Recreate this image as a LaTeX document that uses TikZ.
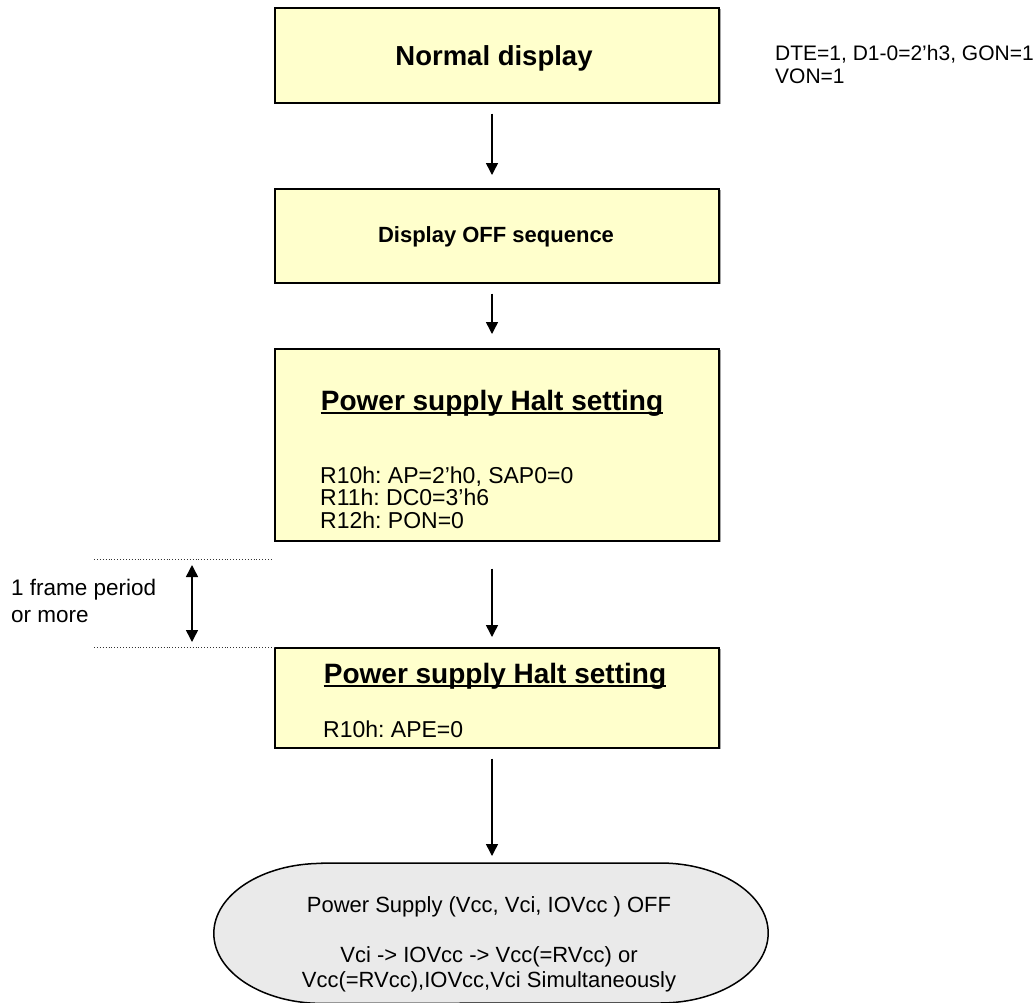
\documentclass[tikz,border=0pt]{standalone}
\usepackage{fontspec}
\setmainfont{Liberation Sans}
\usetikzlibrary{arrows.meta}
\definecolor{boxfill}{HTML}{FFFFCC}
\definecolor{termfill}{HTML}{EAEAEA}
\tikzset{
  stepbox/.style={draw=black, line width=1.6pt, fill=boxfill, inner sep=0pt, anchor=north west},
  boxshadow/.style={fill=black!35},
  flow/.style={line width=1.5pt, -{Triangle[length=12pt,width=12pt]}},
  span/.style={line width=1.5pt, {Triangle[length=12pt,width=12pt]}-{Triangle[length=12pt,width=12pt]}},
  guide/.style={line width=0.9pt, dotted, black!80},
  txt/.style={inner sep=0pt, font=\fontsize{23}{22.5}\selectfont},
  ttl/.style={inner sep=0pt, anchor=base, font=\fontsize{28}{30}\selectfont\bfseries},
  uline/.style={line width=1.8pt},
}
\begin{document}
\frenchspacing
\begin{tikzpicture}[x=1pt,y=-1pt]
\useasboundingbox (0,0) rectangle (1034,1002);
\begin{scope}
\clip (0,0) rectangle (1034,1002);

% shadows behind the boxes
\fill[boxshadow] (276,9) rectangle (720.5,104);
\fill[boxshadow] (276,190) rectangle (720.5,284);
\fill[boxshadow] (276,350) rectangle (720.5,542);
\fill[boxshadow] (276,649) rectangle (720.5,749);

% process boxes
\node[stepbox, minimum width=444pt, minimum height=95pt] (b1) at (274,7) {};
\node[stepbox, minimum width=444pt, minimum height=94pt] (b2) at (274,188) {};
\node[stepbox, minimum width=444pt, minimum height=192pt] (b3) at (274,348) {};
\node[stepbox, minimum width=444pt, minimum height=100pt] (b4) at (274,647) {};

% box texts
\node[inner sep=0pt, anchor=base, font=\fontsize{27.5}{30}\selectfont\bfseries] (t1) at (494,65) {Normal display};
\node[inner sep=0pt, anchor=base, font=\fontsize{22}{24}\selectfont\bfseries] (t2) at (496,242) {Display OFF sequence};
\node[ttl] (t3) at (492,410) {Power supply Halt setting};
\draw[uline] ([yshift=-3pt]t3.base west) -- ([yshift=-3pt]t3.base east);
\node[txt, anchor=base west] (t3a) at (320,483) {R10h: AP=2'h0, SAP0=0};
\node[txt, anchor=base west] (t3b) at (320,505.5) {R11h: DC0=3'h6};
\node[txt, anchor=base west] (t3c) at (320,528) {R12h: PON=0};
\node[ttl] (t4) at (495,683) {Power supply Halt setting};
\draw[uline] ([yshift=-3pt]t4.base west) -- ([yshift=-3pt]t4.base east);
\node[txt, anchor=base west] (t4b) at (323,737) {R10h: APE=0};

% register note beside the first box
\node[inner sep=0pt, anchor=base west, font=\fontsize{21}{23}\selectfont] (n1) at (775,60) {DTE=1, D1-0=2'h3, GON=1};
\node[inner sep=0pt, anchor=base west, font=\fontsize{21}{23}\selectfont] (n2) at (775,83) {VON=1};

% terminator
\node[minimum width=554pt, minimum height=140pt, inner sep=0pt, anchor=north] (term) at (491,863) {};
\draw[line width=1.5pt, fill=termfill]
  ([xshift=108pt]term.north west) -- ([xshift=-108pt]term.north east)
  arc[start angle=90, end angle=-90, x radius=108pt, y radius=70pt]
  -- ([xshift=108pt]term.south west)
  arc[start angle=270, end angle=90, x radius=108pt, y radius=70pt] -- cycle;
\node[inner sep=0pt, anchor=base, font=\fontsize{22}{25}\selectfont] (tt1) at (489,912) {Power Supply (Vcc, Vci, IOVcc ) OFF};
\node[inner sep=0pt, anchor=base, font=\fontsize{22}{25}\selectfont] (tt2) at (489,962) {Vci -> IOVcc -> Vcc(=RVcc) or};
\node[inner sep=0pt, anchor=base, font=\fontsize{22}{25}\selectfont] (tt3) at (489,987) {Vcc(=RVcc),IOVcc,Vci Simultaneously};

% flow arrows
\coordinate (ax) at (492,0);
\draw[flow, shorten <=10pt, shorten >=13pt] (b1.south -| ax) -- (b2.north -| ax);
\draw[flow, shorten <=10pt, shorten >=14pt] (b2.south -| ax) -- (b3.north -| ax);
\draw[flow, shorten <=27pt, shorten >=10pt] (b3.south -| ax) -- (b4.north -| ax);
\draw[flow, shorten <=10pt, shorten >=7pt] (b4.south -| ax) -- (term.north -| ax);

% frame period marker
\coordinate (g1a) at (94,559);
\coordinate (g1b) at (273,559);
\coordinate (g2a) at (94,647);
\draw[guide] (g1a) -- (g1b);
\draw[guide] (g2a) -- (b4.north west);
\coordinate (s1) at (192,565);
\coordinate (s2) at (192,642);
\draw[span] (s1) -- (s2);
\node[txt, anchor=base west, font=\fontsize{22.5}{27}\selectfont] (fp1) at (11,595) {1 frame period};
\node[txt, anchor=base west, font=\fontsize{22.5}{27}\selectfont] (fp2) at (11,622) {or more};
\end{scope}
\end{tikzpicture}
\end{document}
